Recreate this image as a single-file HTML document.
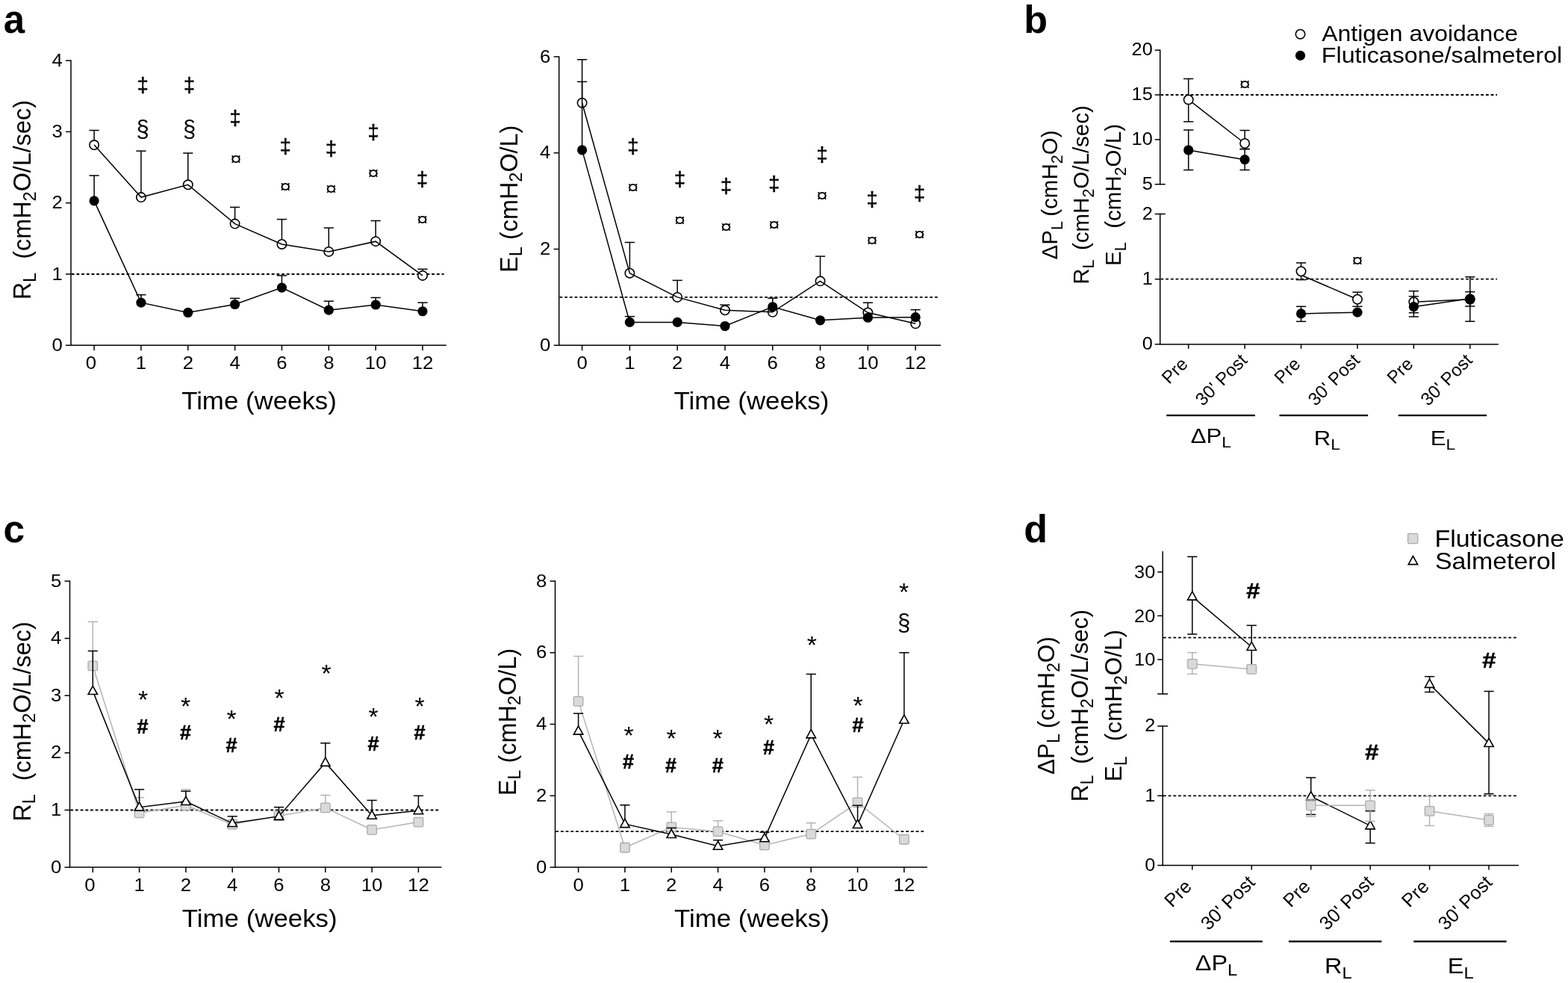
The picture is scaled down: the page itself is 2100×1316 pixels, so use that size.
<!DOCTYPE html>
<html><head><meta charset="utf-8"><title>Figure</title>
<style>html,body{margin:0;padding:0;background:#fff;overflow:hidden;}svg{display:block;}</style></head>
<body><svg width="2100" height="1316" viewBox="0 0 2100 1316" font-family='"Liberation Sans", Arial, Helvetica, sans-serif' fill="#000">
<rect width="2100" height="1316" fill="#fff"/>
<text x="4.8" y="44" font-size="51" font-weight="bold">a</text>
<text x="1371.2" y="44" font-size="52" font-weight="bold">b</text>
<text x="4.6" y="725.8" font-size="51.5" font-weight="bold">c</text>
<text x="1371.2" y="725.6" font-size="52" font-weight="bold">d</text>
<line x1="95" y1="80.35" x2="95" y2="463.05" stroke="#000" stroke-width="1.5"/>
<line x1="88" y1="462.3" x2="95" y2="462.3" stroke="#000" stroke-width="1.5"/>
<text transform="translate(83.7,469.93) scale(1.06,1)" font-size="24.3" text-anchor="end">0</text>
<line x1="88" y1="367" x2="95" y2="367" stroke="#000" stroke-width="1.5"/>
<text transform="translate(83.7,374.63) scale(1.06,1)" font-size="24.3" text-anchor="end">1</text>
<line x1="88" y1="271.7" x2="95" y2="271.7" stroke="#000" stroke-width="1.5"/>
<text transform="translate(83.7,279.33) scale(1.06,1)" font-size="24.3" text-anchor="end">2</text>
<line x1="88" y1="176.4" x2="95" y2="176.4" stroke="#000" stroke-width="1.5"/>
<text transform="translate(83.7,184.03) scale(1.06,1)" font-size="24.3" text-anchor="end">3</text>
<line x1="88" y1="81.1" x2="95" y2="81.1" stroke="#000" stroke-width="1.5"/>
<text transform="translate(83.7,88.73) scale(1.06,1)" font-size="24.3" text-anchor="end">4</text>
<line x1="95" y1="462.3" x2="597.7" y2="462.3" stroke="#000" stroke-width="1.5"/>
<line x1="126.1" y1="462.3" x2="126.1" y2="469.3" stroke="#000" stroke-width="1.5"/>
<text transform="translate(122,494) scale(1.06,1)" font-size="24.3" text-anchor="middle">0</text>
<line x1="188.94" y1="462.3" x2="188.94" y2="469.3" stroke="#000" stroke-width="1.5"/>
<text transform="translate(188.94,494) scale(1.06,1)" font-size="24.3" text-anchor="middle">1</text>
<line x1="251.78" y1="462.3" x2="251.78" y2="469.3" stroke="#000" stroke-width="1.5"/>
<text transform="translate(251.78,494) scale(1.06,1)" font-size="24.3" text-anchor="middle">2</text>
<line x1="314.62" y1="462.3" x2="314.62" y2="469.3" stroke="#000" stroke-width="1.5"/>
<text transform="translate(314.62,494) scale(1.06,1)" font-size="24.3" text-anchor="middle">4</text>
<line x1="377.46" y1="462.3" x2="377.46" y2="469.3" stroke="#000" stroke-width="1.5"/>
<text transform="translate(377.46,494) scale(1.06,1)" font-size="24.3" text-anchor="middle">6</text>
<line x1="440.3" y1="462.3" x2="440.3" y2="469.3" stroke="#000" stroke-width="1.5"/>
<text transform="translate(440.3,494) scale(1.06,1)" font-size="24.3" text-anchor="middle">8</text>
<line x1="503.14" y1="462.3" x2="503.14" y2="469.3" stroke="#000" stroke-width="1.5"/>
<text transform="translate(503.14,494) scale(1.06,1)" font-size="24.3" text-anchor="middle">10</text>
<line x1="565.98" y1="462.3" x2="565.98" y2="469.3" stroke="#000" stroke-width="1.5"/>
<text transform="translate(565.98,494) scale(1.06,1)" font-size="24.3" text-anchor="middle">12</text>
<line x1="95.75" y1="367" x2="594.5" y2="367" stroke="#000" stroke-width="1.8" stroke-dasharray="3.8,2.9"/>
<line x1="126.1" y1="194.03" x2="126.1" y2="174.49" stroke="#000" stroke-width="1.5"/>
<line x1="119.5" y1="174.49" x2="132.7" y2="174.49" stroke="#000" stroke-width="1.5"/>
<line x1="188.94" y1="264.08" x2="188.94" y2="202.13" stroke="#000" stroke-width="1.5"/>
<line x1="182.34" y1="202.13" x2="195.54" y2="202.13" stroke="#000" stroke-width="1.5"/>
<line x1="251.78" y1="247.3" x2="251.78" y2="204.99" stroke="#000" stroke-width="1.5"/>
<line x1="245.18" y1="204.99" x2="258.38" y2="204.99" stroke="#000" stroke-width="1.5"/>
<line x1="314.62" y1="299.62" x2="314.62" y2="277.42" stroke="#000" stroke-width="1.5"/>
<line x1="308.02" y1="277.42" x2="321.22" y2="277.42" stroke="#000" stroke-width="1.5"/>
<line x1="377.46" y1="326.97" x2="377.46" y2="293.62" stroke="#000" stroke-width="1.5"/>
<line x1="370.86" y1="293.62" x2="384.06" y2="293.62" stroke="#000" stroke-width="1.5"/>
<line x1="440.3" y1="336.89" x2="440.3" y2="305.06" stroke="#000" stroke-width="1.5"/>
<line x1="433.7" y1="305.06" x2="446.9" y2="305.06" stroke="#000" stroke-width="1.5"/>
<line x1="503.14" y1="323.16" x2="503.14" y2="295.52" stroke="#000" stroke-width="1.5"/>
<line x1="496.54" y1="295.52" x2="509.74" y2="295.52" stroke="#000" stroke-width="1.5"/>
<line x1="565.98" y1="368.91" x2="565.98" y2="360.33" stroke="#000" stroke-width="1.5"/>
<line x1="559.38" y1="360.33" x2="572.58" y2="360.33" stroke="#000" stroke-width="1.5"/>
<circle cx="126.1" cy="194.03" r="6.2" fill="#fff" stroke="#000" stroke-width="1.6"/>
<circle cx="188.94" cy="264.08" r="6.2" fill="#fff" stroke="#000" stroke-width="1.6"/>
<circle cx="251.78" cy="247.3" r="6.2" fill="#fff" stroke="#000" stroke-width="1.6"/>
<circle cx="314.62" cy="299.62" r="6.2" fill="#fff" stroke="#000" stroke-width="1.6"/>
<circle cx="377.46" cy="326.97" r="6.2" fill="#fff" stroke="#000" stroke-width="1.6"/>
<circle cx="440.3" cy="336.89" r="6.2" fill="#fff" stroke="#000" stroke-width="1.6"/>
<circle cx="503.14" cy="323.16" r="6.2" fill="#fff" stroke="#000" stroke-width="1.6"/>
<circle cx="565.98" cy="368.91" r="6.2" fill="#fff" stroke="#000" stroke-width="1.6"/>
<polyline points="126.1,194.03 188.94,264.08 251.78,247.3 314.62,299.62 377.46,326.97 440.3,336.89 503.14,323.16 565.98,368.91" fill="none" stroke="#000" stroke-width="1.5"/>
<line x1="126.1" y1="268.84" x2="126.1" y2="235.01" stroke="#000" stroke-width="1.5"/>
<line x1="119.5" y1="235.01" x2="132.7" y2="235.01" stroke="#000" stroke-width="1.5"/>
<line x1="188.94" y1="405.12" x2="188.94" y2="394.64" stroke="#000" stroke-width="1.5"/>
<line x1="182.34" y1="394.64" x2="195.54" y2="394.64" stroke="#000" stroke-width="1.5"/>
<line x1="314.62" y1="407.5" x2="314.62" y2="399.4" stroke="#000" stroke-width="1.5"/>
<line x1="308.02" y1="399.4" x2="321.22" y2="399.4" stroke="#000" stroke-width="1.5"/>
<line x1="377.46" y1="385.11" x2="377.46" y2="368.91" stroke="#000" stroke-width="1.5"/>
<line x1="370.86" y1="368.91" x2="384.06" y2="368.91" stroke="#000" stroke-width="1.5"/>
<line x1="440.3" y1="415.13" x2="440.3" y2="403.21" stroke="#000" stroke-width="1.5"/>
<line x1="433.7" y1="403.21" x2="446.9" y2="403.21" stroke="#000" stroke-width="1.5"/>
<line x1="503.14" y1="407.98" x2="503.14" y2="398.45" stroke="#000" stroke-width="1.5"/>
<line x1="496.54" y1="398.45" x2="509.74" y2="398.45" stroke="#000" stroke-width="1.5"/>
<line x1="565.98" y1="416.75" x2="565.98" y2="405.12" stroke="#000" stroke-width="1.5"/>
<line x1="559.38" y1="405.12" x2="572.58" y2="405.12" stroke="#000" stroke-width="1.5"/>
<circle cx="126.1" cy="268.84" r="6.6" fill="#000"/>
<circle cx="188.94" cy="405.12" r="6.6" fill="#000"/>
<circle cx="251.78" cy="418.46" r="6.6" fill="#000"/>
<circle cx="314.62" cy="407.5" r="6.6" fill="#000"/>
<circle cx="377.46" cy="385.11" r="6.6" fill="#000"/>
<circle cx="440.3" cy="415.13" r="6.6" fill="#000"/>
<circle cx="503.14" cy="407.98" r="6.6" fill="#000"/>
<circle cx="565.98" cy="416.75" r="6.6" fill="#000"/>
<polyline points="126.1,268.84 188.94,405.12 251.78,418.46 314.62,407.5 377.46,385.11 440.3,415.13 503.14,407.98 565.98,416.75" fill="none" stroke="#000" stroke-width="1.5"/>
<text x="191.2" y="123.48" font-size="27" text-anchor="middle" stroke="#000" stroke-width="0.55">‡</text>
<text x="191.2" y="183.23" font-size="31" text-anchor="middle">§</text>
<text x="253.6" y="123.48" font-size="27" text-anchor="middle" stroke="#000" stroke-width="0.55">‡</text>
<text x="253.6" y="183.23" font-size="31" text-anchor="middle">§</text>
<text x="315" y="167.48" font-size="27" text-anchor="middle" stroke="#000" stroke-width="0.55">‡</text>
<text transform="translate(316,221.04) scale(1.12,0.98)" font-size="24" text-anchor="middle">¤</text>
<text x="382.2" y="205.38" font-size="27" text-anchor="middle" stroke="#000" stroke-width="0.55">‡</text>
<text transform="translate(382.2,258.24) scale(1.12,0.98)" font-size="24" text-anchor="middle">¤</text>
<text x="443.4" y="207.98" font-size="27" text-anchor="middle" stroke="#000" stroke-width="0.55">‡</text>
<text transform="translate(443.4,261.44) scale(1.12,0.98)" font-size="24" text-anchor="middle">¤</text>
<text x="500" y="186.18" font-size="27" text-anchor="middle" stroke="#000" stroke-width="0.55">‡</text>
<text transform="translate(500,239.54) scale(1.12,0.98)" font-size="24" text-anchor="middle">¤</text>
<text x="565.6" y="248.68" font-size="27" text-anchor="middle" stroke="#000" stroke-width="0.55">‡</text>
<text transform="translate(565.6,302.04) scale(1.12,0.98)" font-size="24" text-anchor="middle">¤</text>
<text transform="translate(347,548.4) scale(1.056,1)" font-size="33" text-anchor="middle">Time (weeks)</text>
<text transform="translate(41.2,267.65) rotate(-90)" font-size="32.4" text-anchor="middle">R<tspan font-size="23.6" dy="6.3">L</tspan><tspan dy="-6.3" dx="18">(cmH</tspan><tspan font-size="23.6" dy="6.3">2</tspan><tspan dy="-6.3">O/L/sec)</tspan></text>
<line x1="748.7" y1="75.15" x2="748.7" y2="463.05" stroke="#000" stroke-width="1.5"/>
<line x1="741.7" y1="462.3" x2="748.7" y2="462.3" stroke="#000" stroke-width="1.5"/>
<text transform="translate(737.4,469.93) scale(1.06,1)" font-size="24.3" text-anchor="end">0</text>
<line x1="741.7" y1="333.5" x2="748.7" y2="333.5" stroke="#000" stroke-width="1.5"/>
<text transform="translate(737.4,341.13) scale(1.06,1)" font-size="24.3" text-anchor="end">2</text>
<line x1="741.7" y1="204.7" x2="748.7" y2="204.7" stroke="#000" stroke-width="1.5"/>
<text transform="translate(737.4,212.33) scale(1.06,1)" font-size="24.3" text-anchor="end">4</text>
<line x1="741.7" y1="75.9" x2="748.7" y2="75.9" stroke="#000" stroke-width="1.5"/>
<text transform="translate(737.4,83.53) scale(1.06,1)" font-size="24.3" text-anchor="end">6</text>
<line x1="748.7" y1="462.3" x2="1260" y2="462.3" stroke="#000" stroke-width="1.5"/>
<line x1="779.6" y1="462.3" x2="779.6" y2="469.3" stroke="#000" stroke-width="1.5"/>
<text transform="translate(779.6,494) scale(1.06,1)" font-size="24.3" text-anchor="middle">0</text>
<line x1="843.39" y1="462.3" x2="843.39" y2="469.3" stroke="#000" stroke-width="1.5"/>
<text transform="translate(843.39,494) scale(1.06,1)" font-size="24.3" text-anchor="middle">1</text>
<line x1="907.18" y1="462.3" x2="907.18" y2="469.3" stroke="#000" stroke-width="1.5"/>
<text transform="translate(907.18,494) scale(1.06,1)" font-size="24.3" text-anchor="middle">2</text>
<line x1="970.97" y1="462.3" x2="970.97" y2="469.3" stroke="#000" stroke-width="1.5"/>
<text transform="translate(970.97,494) scale(1.06,1)" font-size="24.3" text-anchor="middle">4</text>
<line x1="1034.76" y1="462.3" x2="1034.76" y2="469.3" stroke="#000" stroke-width="1.5"/>
<text transform="translate(1034.76,494) scale(1.06,1)" font-size="24.3" text-anchor="middle">6</text>
<line x1="1098.55" y1="462.3" x2="1098.55" y2="469.3" stroke="#000" stroke-width="1.5"/>
<text transform="translate(1098.55,494) scale(1.06,1)" font-size="24.3" text-anchor="middle">8</text>
<line x1="1162.34" y1="462.3" x2="1162.34" y2="469.3" stroke="#000" stroke-width="1.5"/>
<text transform="translate(1162.34,494) scale(1.06,1)" font-size="24.3" text-anchor="middle">10</text>
<line x1="1226.13" y1="462.3" x2="1226.13" y2="469.3" stroke="#000" stroke-width="1.5"/>
<text transform="translate(1226.13,494) scale(1.06,1)" font-size="24.3" text-anchor="middle">12</text>
<line x1="749.45" y1="397.9" x2="1258" y2="397.9" stroke="#000" stroke-width="1.8" stroke-dasharray="3.8,2.9"/>
<line x1="779.6" y1="137.72" x2="779.6" y2="79.76" stroke="#000" stroke-width="1.5"/>
<line x1="773" y1="79.76" x2="786.2" y2="79.76" stroke="#000" stroke-width="1.5"/>
<line x1="843.39" y1="365.7" x2="843.39" y2="324.48" stroke="#000" stroke-width="1.5"/>
<line x1="836.79" y1="324.48" x2="849.99" y2="324.48" stroke="#000" stroke-width="1.5"/>
<line x1="907.18" y1="397.9" x2="907.18" y2="375.36" stroke="#000" stroke-width="1.5"/>
<line x1="900.58" y1="375.36" x2="913.78" y2="375.36" stroke="#000" stroke-width="1.5"/>
<line x1="970.97" y1="415.29" x2="970.97" y2="408.2" stroke="#000" stroke-width="1.5"/>
<line x1="964.37" y1="408.2" x2="977.57" y2="408.2" stroke="#000" stroke-width="1.5"/>
<line x1="1098.55" y1="376.33" x2="1098.55" y2="343.16" stroke="#000" stroke-width="1.5"/>
<line x1="1091.95" y1="343.16" x2="1105.15" y2="343.16" stroke="#000" stroke-width="1.5"/>
<line x1="1162.34" y1="418.51" x2="1162.34" y2="405.24" stroke="#000" stroke-width="1.5"/>
<line x1="1155.74" y1="405.24" x2="1168.94" y2="405.24" stroke="#000" stroke-width="1.5"/>
<circle cx="779.6" cy="137.72" r="6.2" fill="#fff" stroke="#000" stroke-width="1.6"/>
<circle cx="843.39" cy="365.7" r="6.2" fill="#fff" stroke="#000" stroke-width="1.6"/>
<circle cx="907.18" cy="397.9" r="6.2" fill="#fff" stroke="#000" stroke-width="1.6"/>
<circle cx="970.97" cy="415.29" r="6.2" fill="#fff" stroke="#000" stroke-width="1.6"/>
<circle cx="1034.76" cy="417.86" r="6.2" fill="#fff" stroke="#000" stroke-width="1.6"/>
<circle cx="1098.55" cy="376.33" r="6.2" fill="#fff" stroke="#000" stroke-width="1.6"/>
<circle cx="1162.34" cy="418.51" r="6.2" fill="#fff" stroke="#000" stroke-width="1.6"/>
<circle cx="1226.13" cy="433.32" r="6.2" fill="#fff" stroke="#000" stroke-width="1.6"/>
<polyline points="779.6,137.72 843.39,365.7 907.18,397.9 970.97,415.29 1034.76,417.86 1098.55,376.33 1162.34,418.51 1226.13,433.32" fill="none" stroke="#000" stroke-width="1.5"/>
<line x1="779.6" y1="200.84" x2="779.6" y2="109.39" stroke="#000" stroke-width="1.5"/>
<line x1="773" y1="109.39" x2="786.2" y2="109.39" stroke="#000" stroke-width="1.5"/>
<line x1="843.39" y1="431.39" x2="843.39" y2="423.66" stroke="#000" stroke-width="1.5"/>
<line x1="836.79" y1="423.66" x2="849.99" y2="423.66" stroke="#000" stroke-width="1.5"/>
<line x1="1034.76" y1="410.78" x2="1034.76" y2="399.19" stroke="#000" stroke-width="1.5"/>
<line x1="1028.16" y1="399.19" x2="1041.36" y2="399.19" stroke="#000" stroke-width="1.5"/>
<line x1="1226.13" y1="424.63" x2="1226.13" y2="414.64" stroke="#000" stroke-width="1.5"/>
<line x1="1219.53" y1="414.64" x2="1232.73" y2="414.64" stroke="#000" stroke-width="1.5"/>
<circle cx="779.6" cy="200.84" r="6.6" fill="#000"/>
<circle cx="843.39" cy="431.39" r="6.6" fill="#000"/>
<circle cx="907.18" cy="431.39" r="6.6" fill="#000"/>
<circle cx="970.97" cy="436.54" r="6.6" fill="#000"/>
<circle cx="1034.76" cy="410.78" r="6.6" fill="#000"/>
<circle cx="1098.55" cy="428.81" r="6.6" fill="#000"/>
<circle cx="1162.34" cy="425.27" r="6.6" fill="#000"/>
<circle cx="1226.13" cy="424.63" r="6.6" fill="#000"/>
<polyline points="779.6,200.84 843.39,431.39 907.18,431.39 970.97,436.54 1034.76,410.78 1098.55,428.81 1162.34,425.27 1226.13,424.63" fill="none" stroke="#000" stroke-width="1.5"/>
<text x="847.7" y="204.68" font-size="27" text-anchor="middle" stroke="#000" stroke-width="0.55">‡</text>
<text transform="translate(847.7,259.24) scale(1.12,0.98)" font-size="24" text-anchor="middle">¤</text>
<text x="910.5" y="249.18" font-size="27" text-anchor="middle" stroke="#000" stroke-width="0.55">‡</text>
<text transform="translate(910.5,302.74) scale(1.12,0.98)" font-size="24" text-anchor="middle">¤</text>
<text x="972.5" y="258.18" font-size="27" text-anchor="middle" stroke="#000" stroke-width="0.55">‡</text>
<text transform="translate(972.5,311.84) scale(1.12,0.98)" font-size="24" text-anchor="middle">¤</text>
<text x="1036.8" y="255.08" font-size="27" text-anchor="middle" stroke="#000" stroke-width="0.55">‡</text>
<text transform="translate(1036.8,309.44) scale(1.12,0.98)" font-size="24" text-anchor="middle">¤</text>
<text x="1100.9" y="216.08" font-size="27" text-anchor="middle" stroke="#000" stroke-width="0.55">‡</text>
<text transform="translate(1100.9,270.44) scale(1.12,0.98)" font-size="24" text-anchor="middle">¤</text>
<text x="1167.9" y="275.58" font-size="27" text-anchor="middle" stroke="#000" stroke-width="0.55">‡</text>
<text transform="translate(1167.9,329.94) scale(1.12,0.98)" font-size="24" text-anchor="middle">¤</text>
<text x="1231.4" y="268.28" font-size="27" text-anchor="middle" stroke="#000" stroke-width="0.55">‡</text>
<text transform="translate(1231.4,322.24) scale(1.12,0.98)" font-size="24" text-anchor="middle">¤</text>
<text transform="translate(1006.4,548.4) scale(1.056,1)" font-size="33" text-anchor="middle">Time (weeks)</text>
<text transform="translate(693,266.25) rotate(-90)" font-size="32.4" text-anchor="middle">E<tspan font-size="23.6" dy="6.3">L</tspan><tspan dy="-6.3" dx="9.1">(cmH</tspan><tspan font-size="23.6" dy="6.3">2</tspan><tspan dy="-6.3">O/L)</tspan></text>
<line x1="93.5" y1="777.25" x2="93.5" y2="1161.85" stroke="#000" stroke-width="1.5"/>
<line x1="86.5" y1="1161.1" x2="93.5" y2="1161.1" stroke="#000" stroke-width="1.5"/>
<text transform="translate(82.2,1168.73) scale(1.06,1)" font-size="24.3" text-anchor="end">0</text>
<line x1="86.5" y1="1084.48" x2="93.5" y2="1084.48" stroke="#000" stroke-width="1.5"/>
<text transform="translate(82.2,1092.11) scale(1.06,1)" font-size="24.3" text-anchor="end">1</text>
<line x1="86.5" y1="1007.86" x2="93.5" y2="1007.86" stroke="#000" stroke-width="1.5"/>
<text transform="translate(82.2,1015.49) scale(1.06,1)" font-size="24.3" text-anchor="end">2</text>
<line x1="86.5" y1="931.24" x2="93.5" y2="931.24" stroke="#000" stroke-width="1.5"/>
<text transform="translate(82.2,938.87) scale(1.06,1)" font-size="24.3" text-anchor="end">3</text>
<line x1="86.5" y1="854.62" x2="93.5" y2="854.62" stroke="#000" stroke-width="1.5"/>
<text transform="translate(82.2,862.25) scale(1.06,1)" font-size="24.3" text-anchor="end">4</text>
<line x1="86.5" y1="778" x2="93.5" y2="778" stroke="#000" stroke-width="1.5"/>
<text transform="translate(82.2,785.63) scale(1.06,1)" font-size="24.3" text-anchor="end">5</text>
<line x1="93.5" y1="1161.1" x2="591.4" y2="1161.1" stroke="#000" stroke-width="1.5"/>
<line x1="124.3" y1="1161.1" x2="124.3" y2="1168.1" stroke="#000" stroke-width="1.5"/>
<text transform="translate(120.5,1192.8) scale(1.06,1)" font-size="24.3" text-anchor="middle">0</text>
<line x1="186.6" y1="1161.1" x2="186.6" y2="1168.1" stroke="#000" stroke-width="1.5"/>
<text transform="translate(186.6,1192.8) scale(1.06,1)" font-size="24.3" text-anchor="middle">1</text>
<line x1="248.9" y1="1161.1" x2="248.9" y2="1168.1" stroke="#000" stroke-width="1.5"/>
<text transform="translate(248.9,1192.8) scale(1.06,1)" font-size="24.3" text-anchor="middle">2</text>
<line x1="311.2" y1="1161.1" x2="311.2" y2="1168.1" stroke="#000" stroke-width="1.5"/>
<text transform="translate(311.2,1192.8) scale(1.06,1)" font-size="24.3" text-anchor="middle">4</text>
<line x1="373.5" y1="1161.1" x2="373.5" y2="1168.1" stroke="#000" stroke-width="1.5"/>
<text transform="translate(373.5,1192.8) scale(1.06,1)" font-size="24.3" text-anchor="middle">6</text>
<line x1="435.8" y1="1161.1" x2="435.8" y2="1168.1" stroke="#000" stroke-width="1.5"/>
<text transform="translate(435.8,1192.8) scale(1.06,1)" font-size="24.3" text-anchor="middle">8</text>
<line x1="498.1" y1="1161.1" x2="498.1" y2="1168.1" stroke="#000" stroke-width="1.5"/>
<text transform="translate(498.1,1192.8) scale(1.06,1)" font-size="24.3" text-anchor="middle">10</text>
<line x1="560.4" y1="1161.1" x2="560.4" y2="1168.1" stroke="#000" stroke-width="1.5"/>
<text transform="translate(560.4,1192.8) scale(1.06,1)" font-size="24.3" text-anchor="middle">12</text>
<line x1="94.25" y1="1084.48" x2="589" y2="1084.48" stroke="#000" stroke-width="1.8" stroke-dasharray="3.8,2.9"/>
<line x1="124.3" y1="891.4" x2="124.3" y2="832.4" stroke="#b4b4b4" stroke-width="1.5"/>
<line x1="117.7" y1="832.4" x2="130.9" y2="832.4" stroke="#b4b4b4" stroke-width="1.5"/>
<line x1="186.6" y1="1088.31" x2="186.6" y2="1067.62" stroke="#b4b4b4" stroke-width="1.5"/>
<line x1="180" y1="1067.62" x2="193.2" y2="1067.62" stroke="#b4b4b4" stroke-width="1.5"/>
<line x1="248.9" y1="1078.35" x2="248.9" y2="1056.9" stroke="#b4b4b4" stroke-width="1.5"/>
<line x1="242.3" y1="1056.9" x2="255.5" y2="1056.9" stroke="#b4b4b4" stroke-width="1.5"/>
<line x1="435.8" y1="1081.42" x2="435.8" y2="1064.56" stroke="#b4b4b4" stroke-width="1.5"/>
<line x1="429.2" y1="1064.56" x2="442.4" y2="1064.56" stroke="#b4b4b4" stroke-width="1.5"/>
<polyline points="124.3,891.4 186.6,1088.31 248.9,1078.35 311.2,1103.63 373.5,1092.14 435.8,1081.42 498.1,1110.91 560.4,1100.57" fill="none" stroke="#b4b4b4" stroke-width="1.5"/>
<rect x="118.05" y="885.15" width="12.5" height="12.5" rx="1.5" fill="#dadada" stroke="#aaaaaa" stroke-width="1.3"/>
<rect x="180.35" y="1082.06" width="12.5" height="12.5" rx="1.5" fill="#dadada" stroke="#aaaaaa" stroke-width="1.3"/>
<rect x="242.65" y="1072.1" width="12.5" height="12.5" rx="1.5" fill="#dadada" stroke="#aaaaaa" stroke-width="1.3"/>
<rect x="304.95" y="1097.38" width="12.5" height="12.5" rx="1.5" fill="#dadada" stroke="#aaaaaa" stroke-width="1.3"/>
<rect x="367.25" y="1085.89" width="12.5" height="12.5" rx="1.5" fill="#dadada" stroke="#aaaaaa" stroke-width="1.3"/>
<rect x="429.55" y="1075.17" width="12.5" height="12.5" rx="1.5" fill="#dadada" stroke="#aaaaaa" stroke-width="1.3"/>
<rect x="491.85" y="1104.66" width="12.5" height="12.5" rx="1.5" fill="#dadada" stroke="#aaaaaa" stroke-width="1.3"/>
<rect x="554.15" y="1094.32" width="12.5" height="12.5" rx="1.5" fill="#dadada" stroke="#aaaaaa" stroke-width="1.3"/>
<line x1="124.3" y1="925.11" x2="124.3" y2="871.48" stroke="#000" stroke-width="1.5"/>
<line x1="117.7" y1="871.48" x2="130.9" y2="871.48" stroke="#000" stroke-width="1.5"/>
<line x1="186.6" y1="1080.65" x2="186.6" y2="1056.9" stroke="#000" stroke-width="1.5"/>
<line x1="180" y1="1056.9" x2="193.2" y2="1056.9" stroke="#000" stroke-width="1.5"/>
<line x1="248.9" y1="1072.99" x2="248.9" y2="1059.2" stroke="#000" stroke-width="1.5"/>
<line x1="242.3" y1="1059.2" x2="255.5" y2="1059.2" stroke="#000" stroke-width="1.5"/>
<line x1="311.2" y1="1102.1" x2="311.2" y2="1092.91" stroke="#000" stroke-width="1.5"/>
<line x1="304.6" y1="1092.91" x2="317.8" y2="1092.91" stroke="#000" stroke-width="1.5"/>
<line x1="373.5" y1="1092.91" x2="373.5" y2="1080.65" stroke="#000" stroke-width="1.5"/>
<line x1="366.9" y1="1080.65" x2="380.1" y2="1080.65" stroke="#000" stroke-width="1.5"/>
<line x1="435.8" y1="1020.89" x2="435.8" y2="994.83" stroke="#000" stroke-width="1.5"/>
<line x1="429.2" y1="994.83" x2="442.4" y2="994.83" stroke="#000" stroke-width="1.5"/>
<line x1="498.1" y1="1091.76" x2="498.1" y2="1071.45" stroke="#000" stroke-width="1.5"/>
<line x1="491.5" y1="1071.45" x2="504.7" y2="1071.45" stroke="#000" stroke-width="1.5"/>
<line x1="560.4" y1="1085.25" x2="560.4" y2="1065.32" stroke="#000" stroke-width="1.5"/>
<line x1="553.8" y1="1065.32" x2="567" y2="1065.32" stroke="#000" stroke-width="1.5"/>
<polyline points="124.3,925.11 186.6,1080.65 248.9,1072.99 311.2,1102.1 373.5,1092.91 435.8,1020.89 498.1,1091.76 560.4,1085.25" fill="none" stroke="#000" stroke-width="1.5"/>
<polygon points="124.3,918.41 130.5,929.57 118.1,929.57" fill="#fff" stroke="#000" stroke-width="1.6"/>
<polygon points="186.6,1073.95 192.8,1085.11 180.4,1085.11" fill="#fff" stroke="#000" stroke-width="1.6"/>
<polygon points="248.9,1066.29 255.1,1077.45 242.7,1077.45" fill="#fff" stroke="#000" stroke-width="1.6"/>
<polygon points="311.2,1095.41 317.4,1106.57 305,1106.57" fill="#fff" stroke="#000" stroke-width="1.6"/>
<polygon points="373.5,1086.21 379.7,1097.37 367.3,1097.37" fill="#fff" stroke="#000" stroke-width="1.6"/>
<polygon points="435.8,1014.19 442,1025.35 429.6,1025.35" fill="#fff" stroke="#000" stroke-width="1.6"/>
<polygon points="498.1,1085.06 504.3,1096.22 491.9,1096.22" fill="#fff" stroke="#000" stroke-width="1.6"/>
<polygon points="560.4,1078.55 566.6,1089.71 554.2,1089.71" fill="#fff" stroke="#000" stroke-width="1.6"/>
<text x="191.5" y="948.48" font-size="34" text-anchor="middle">*</text>
<text x="191" y="982.45" font-size="27" text-anchor="middle" font-weight="bold" stroke="#000" stroke-width="0.5">#</text>
<text x="248.5" y="956.68" font-size="34" text-anchor="middle">*</text>
<text x="248.5" y="990.45" font-size="27" text-anchor="middle" font-weight="bold" stroke="#000" stroke-width="0.5">#</text>
<text x="310" y="973.58" font-size="34" text-anchor="middle">*</text>
<text x="310" y="1007.25" font-size="27" text-anchor="middle" font-weight="bold" stroke="#000" stroke-width="0.5">#</text>
<text x="374" y="946.18" font-size="34" text-anchor="middle">*</text>
<text x="374" y="979.45" font-size="27" text-anchor="middle" font-weight="bold" stroke="#000" stroke-width="0.5">#</text>
<text x="437" y="912.88" font-size="34" text-anchor="middle">*</text>
<text x="500" y="971.28" font-size="34" text-anchor="middle">*</text>
<text x="500" y="1004.95" font-size="27" text-anchor="middle" font-weight="bold" stroke="#000" stroke-width="0.5">#</text>
<text x="562" y="956.68" font-size="34" text-anchor="middle">*</text>
<text x="562" y="990.45" font-size="27" text-anchor="middle" font-weight="bold" stroke="#000" stroke-width="0.5">#</text>
<text transform="translate(347.7,1240.6) scale(1.056,1)" font-size="33" text-anchor="middle">Time (weeks)</text>
<text transform="translate(40.5,966) rotate(-90)" font-size="32.4" text-anchor="middle">R<tspan font-size="23.6" dy="6.3">L</tspan><tspan dy="-6.3" dx="18">(cmH</tspan><tspan font-size="23.6" dy="6.3">2</tspan><tspan dy="-6.3">O/L/sec)</tspan></text>
<line x1="743.5" y1="777.23" x2="743.5" y2="1161.85" stroke="#000" stroke-width="1.5"/>
<line x1="736.5" y1="1161.1" x2="743.5" y2="1161.1" stroke="#000" stroke-width="1.5"/>
<text transform="translate(732.2,1168.73) scale(1.06,1)" font-size="24.3" text-anchor="end">0</text>
<line x1="736.5" y1="1065.32" x2="743.5" y2="1065.32" stroke="#000" stroke-width="1.5"/>
<text transform="translate(732.2,1072.95) scale(1.06,1)" font-size="24.3" text-anchor="end">2</text>
<line x1="736.5" y1="969.54" x2="743.5" y2="969.54" stroke="#000" stroke-width="1.5"/>
<text transform="translate(732.2,977.17) scale(1.06,1)" font-size="24.3" text-anchor="end">4</text>
<line x1="736.5" y1="873.76" x2="743.5" y2="873.76" stroke="#000" stroke-width="1.5"/>
<text transform="translate(732.2,881.39) scale(1.06,1)" font-size="24.3" text-anchor="end">6</text>
<line x1="736.5" y1="777.98" x2="743.5" y2="777.98" stroke="#000" stroke-width="1.5"/>
<text transform="translate(732.2,785.61) scale(1.06,1)" font-size="24.3" text-anchor="end">8</text>
<line x1="743.5" y1="1161.1" x2="1242" y2="1161.1" stroke="#000" stroke-width="1.5"/>
<line x1="774.6" y1="1161.1" x2="774.6" y2="1168.1" stroke="#000" stroke-width="1.5"/>
<text transform="translate(774.6,1192.8) scale(1.06,1)" font-size="24.3" text-anchor="middle">0</text>
<line x1="836.93" y1="1161.1" x2="836.93" y2="1168.1" stroke="#000" stroke-width="1.5"/>
<text transform="translate(836.93,1192.8) scale(1.06,1)" font-size="24.3" text-anchor="middle">1</text>
<line x1="899.26" y1="1161.1" x2="899.26" y2="1168.1" stroke="#000" stroke-width="1.5"/>
<text transform="translate(899.26,1192.8) scale(1.06,1)" font-size="24.3" text-anchor="middle">2</text>
<line x1="961.59" y1="1161.1" x2="961.59" y2="1168.1" stroke="#000" stroke-width="1.5"/>
<text transform="translate(961.59,1192.8) scale(1.06,1)" font-size="24.3" text-anchor="middle">4</text>
<line x1="1023.92" y1="1161.1" x2="1023.92" y2="1168.1" stroke="#000" stroke-width="1.5"/>
<text transform="translate(1023.92,1192.8) scale(1.06,1)" font-size="24.3" text-anchor="middle">6</text>
<line x1="1086.25" y1="1161.1" x2="1086.25" y2="1168.1" stroke="#000" stroke-width="1.5"/>
<text transform="translate(1086.25,1192.8) scale(1.06,1)" font-size="24.3" text-anchor="middle">8</text>
<line x1="1148.58" y1="1161.1" x2="1148.58" y2="1168.1" stroke="#000" stroke-width="1.5"/>
<text transform="translate(1148.58,1192.8) scale(1.06,1)" font-size="24.3" text-anchor="middle">10</text>
<line x1="1210.91" y1="1161.1" x2="1210.91" y2="1168.1" stroke="#000" stroke-width="1.5"/>
<text transform="translate(1210.91,1192.8) scale(1.06,1)" font-size="24.3" text-anchor="middle">12</text>
<line x1="744.25" y1="1113.21" x2="1240" y2="1113.21" stroke="#000" stroke-width="1.8" stroke-dasharray="3.8,2.9"/>
<line x1="774.6" y1="938.89" x2="774.6" y2="878.55" stroke="#b4b4b4" stroke-width="1.5"/>
<line x1="768" y1="878.55" x2="781.2" y2="878.55" stroke="#b4b4b4" stroke-width="1.5"/>
<line x1="899.26" y1="1107.46" x2="899.26" y2="1086.87" stroke="#b4b4b4" stroke-width="1.5"/>
<line x1="892.66" y1="1086.87" x2="905.86" y2="1086.87" stroke="#b4b4b4" stroke-width="1.5"/>
<line x1="961.59" y1="1113.21" x2="961.59" y2="1098.84" stroke="#b4b4b4" stroke-width="1.5"/>
<line x1="954.99" y1="1098.84" x2="968.19" y2="1098.84" stroke="#b4b4b4" stroke-width="1.5"/>
<line x1="1086.25" y1="1116.56" x2="1086.25" y2="1101.72" stroke="#b4b4b4" stroke-width="1.5"/>
<line x1="1079.65" y1="1101.72" x2="1092.85" y2="1101.72" stroke="#b4b4b4" stroke-width="1.5"/>
<line x1="1148.58" y1="1074.42" x2="1148.58" y2="1040.42" stroke="#b4b4b4" stroke-width="1.5"/>
<line x1="1141.98" y1="1040.42" x2="1155.18" y2="1040.42" stroke="#b4b4b4" stroke-width="1.5"/>
<polyline points="774.6,938.89 836.93,1134.76 899.26,1107.46 961.59,1113.21 1023.92,1131.41 1086.25,1116.56 1148.58,1074.42 1210.91,1123.75" fill="none" stroke="#b4b4b4" stroke-width="1.5"/>
<rect x="768.35" y="932.64" width="12.5" height="12.5" rx="1.5" fill="#dadada" stroke="#aaaaaa" stroke-width="1.3"/>
<rect x="830.68" y="1128.51" width="12.5" height="12.5" rx="1.5" fill="#dadada" stroke="#aaaaaa" stroke-width="1.3"/>
<rect x="893.01" y="1101.21" width="12.5" height="12.5" rx="1.5" fill="#dadada" stroke="#aaaaaa" stroke-width="1.3"/>
<rect x="955.34" y="1106.96" width="12.5" height="12.5" rx="1.5" fill="#dadada" stroke="#aaaaaa" stroke-width="1.3"/>
<rect x="1017.67" y="1125.16" width="12.5" height="12.5" rx="1.5" fill="#dadada" stroke="#aaaaaa" stroke-width="1.3"/>
<rect x="1080" y="1110.31" width="12.5" height="12.5" rx="1.5" fill="#dadada" stroke="#aaaaaa" stroke-width="1.3"/>
<rect x="1142.33" y="1068.17" width="12.5" height="12.5" rx="1.5" fill="#dadada" stroke="#aaaaaa" stroke-width="1.3"/>
<rect x="1204.66" y="1117.5" width="12.5" height="12.5" rx="1.5" fill="#dadada" stroke="#aaaaaa" stroke-width="1.3"/>
<line x1="774.6" y1="978.64" x2="774.6" y2="955.17" stroke="#000" stroke-width="1.5"/>
<line x1="768" y1="955.17" x2="781.2" y2="955.17" stroke="#000" stroke-width="1.5"/>
<line x1="836.93" y1="1103.15" x2="836.93" y2="1077.77" stroke="#000" stroke-width="1.5"/>
<line x1="830.33" y1="1077.77" x2="843.53" y2="1077.77" stroke="#000" stroke-width="1.5"/>
<line x1="899.26" y1="1117.04" x2="899.26" y2="1108.42" stroke="#000" stroke-width="1.5"/>
<line x1="892.66" y1="1108.42" x2="905.86" y2="1108.42" stroke="#000" stroke-width="1.5"/>
<line x1="961.59" y1="1132.84" x2="961.59" y2="1124.7" stroke="#000" stroke-width="1.5"/>
<line x1="954.99" y1="1124.7" x2="968.19" y2="1124.7" stroke="#000" stroke-width="1.5"/>
<line x1="1023.92" y1="1122.31" x2="1023.92" y2="1114.17" stroke="#000" stroke-width="1.5"/>
<line x1="1017.32" y1="1114.17" x2="1030.52" y2="1114.17" stroke="#000" stroke-width="1.5"/>
<line x1="1086.25" y1="983.43" x2="1086.25" y2="902.49" stroke="#000" stroke-width="1.5"/>
<line x1="1079.65" y1="902.49" x2="1092.85" y2="902.49" stroke="#000" stroke-width="1.5"/>
<line x1="1148.58" y1="1104.11" x2="1148.58" y2="1078.25" stroke="#000" stroke-width="1.5"/>
<line x1="1141.98" y1="1078.25" x2="1155.18" y2="1078.25" stroke="#000" stroke-width="1.5"/>
<line x1="1210.91" y1="963.79" x2="1210.91" y2="873.76" stroke="#000" stroke-width="1.5"/>
<line x1="1204.31" y1="873.76" x2="1217.51" y2="873.76" stroke="#000" stroke-width="1.5"/>
<polyline points="774.6,978.64 836.93,1103.15 899.26,1117.04 961.59,1132.84 1023.92,1122.31 1086.25,983.43 1148.58,1104.11 1210.91,963.79" fill="none" stroke="#000" stroke-width="1.5"/>
<polygon points="774.6,971.94 780.8,983.1 768.4,983.1" fill="#fff" stroke="#000" stroke-width="1.6"/>
<polygon points="836.93,1096.46 843.13,1107.62 830.73,1107.62" fill="#fff" stroke="#000" stroke-width="1.6"/>
<polygon points="899.26,1110.35 905.46,1121.51 893.06,1121.51" fill="#fff" stroke="#000" stroke-width="1.6"/>
<polygon points="961.59,1126.15 967.79,1137.31 955.39,1137.31" fill="#fff" stroke="#000" stroke-width="1.6"/>
<polygon points="1023.92,1115.61 1030.12,1126.77 1017.72,1126.77" fill="#fff" stroke="#000" stroke-width="1.6"/>
<polygon points="1086.25,976.73 1092.45,987.89 1080.05,987.89" fill="#fff" stroke="#000" stroke-width="1.6"/>
<polygon points="1148.58,1097.41 1154.78,1108.57 1142.38,1108.57" fill="#fff" stroke="#000" stroke-width="1.6"/>
<polygon points="1210.91,957.1 1217.11,968.26 1204.71,968.26" fill="#fff" stroke="#000" stroke-width="1.6"/>
<text x="842" y="996.38" font-size="34" text-anchor="middle">*</text>
<text x="841.5" y="1029.15" font-size="27" text-anchor="middle" font-weight="bold" stroke="#000" stroke-width="0.5">#</text>
<text x="899" y="999.98" font-size="34" text-anchor="middle">*</text>
<text x="898.4" y="1033.75" font-size="27" text-anchor="middle" font-weight="bold" stroke="#000" stroke-width="0.5">#</text>
<text x="961" y="999.98" font-size="34" text-anchor="middle">*</text>
<text x="961.2" y="1033.75" font-size="27" text-anchor="middle" font-weight="bold" stroke="#000" stroke-width="0.5">#</text>
<text x="1029.6" y="981.28" font-size="34" text-anchor="middle">*</text>
<text x="1029.6" y="1009.65" font-size="27" text-anchor="middle" font-weight="bold" stroke="#000" stroke-width="0.5">#</text>
<text x="1087.3" y="875.48" font-size="34" text-anchor="middle">*</text>
<text x="1149" y="955.68" font-size="34" text-anchor="middle">*</text>
<text x="1149" y="979.95" font-size="27" text-anchor="middle" font-weight="bold" stroke="#000" stroke-width="0.5">#</text>
<text x="1210.5" y="804.48" font-size="34" text-anchor="middle">*</text>
<text x="1210.5" y="843.73" font-size="31" text-anchor="middle">§</text>
<text transform="translate(1006.9,1240.6) scale(1.056,1)" font-size="33" text-anchor="middle">Time (weeks)</text>
<text transform="translate(691,966.7) rotate(-90)" font-size="32.4" text-anchor="middle">E<tspan font-size="23.6" dy="6.3">L</tspan><tspan dy="-6.3" dx="9.1">(cmH</tspan><tspan font-size="23.6" dy="6.3">2</tspan><tspan dy="-6.3">O/L)</tspan></text>
<line x1="1553.7" y1="66.4" x2="1553.7" y2="247.45" stroke="#000" stroke-width="1.5"/>
<line x1="1546.7" y1="246.7" x2="1553.7" y2="246.7" stroke="#000" stroke-width="1.5"/>
<text transform="translate(1543.7,253.94) scale(1.09,1)" font-size="23.2" text-anchor="end">5</text>
<line x1="1546.7" y1="186.85" x2="1553.7" y2="186.85" stroke="#000" stroke-width="1.5"/>
<text transform="translate(1543.7,194.09) scale(1.09,1)" font-size="23.2" text-anchor="end">10</text>
<line x1="1546.7" y1="127" x2="1553.7" y2="127" stroke="#000" stroke-width="1.5"/>
<text transform="translate(1543.7,134.24) scale(1.09,1)" font-size="23.2" text-anchor="end">15</text>
<line x1="1546.7" y1="67.15" x2="1553.7" y2="67.15" stroke="#000" stroke-width="1.5"/>
<text transform="translate(1543.7,74.39) scale(1.09,1)" font-size="23.2" text-anchor="end">20</text>
<line x1="1553.7" y1="246.7" x2="1560.7" y2="246.7" stroke="#000" stroke-width="1.5"/>
<line x1="1553.7" y1="285.75" x2="1553.7" y2="461.65" stroke="#000" stroke-width="1.5"/>
<line x1="1546.7" y1="460.9" x2="1553.7" y2="460.9" stroke="#000" stroke-width="1.5"/>
<text transform="translate(1543.7,468.14) scale(1.09,1)" font-size="23.2" text-anchor="end">0</text>
<line x1="1546.7" y1="373.7" x2="1553.7" y2="373.7" stroke="#000" stroke-width="1.5"/>
<text transform="translate(1543.7,380.94) scale(1.09,1)" font-size="23.2" text-anchor="end">1</text>
<line x1="1546.7" y1="286.5" x2="1553.7" y2="286.5" stroke="#000" stroke-width="1.5"/>
<text transform="translate(1543.7,293.74) scale(1.09,1)" font-size="23.2" text-anchor="end">2</text>
<line x1="1553.7" y1="286.5" x2="1560.7" y2="286.5" stroke="#000" stroke-width="1.5"/>
<line x1="1553.7" y1="460.9" x2="2006.8" y2="460.9" stroke="#000" stroke-width="1.5"/>
<line x1="1591.7" y1="460.9" x2="1591.7" y2="466.9" stroke="#000" stroke-width="1.5"/>
<line x1="1667.12" y1="460.9" x2="1667.12" y2="466.9" stroke="#000" stroke-width="1.5"/>
<line x1="1742.54" y1="460.9" x2="1742.54" y2="466.9" stroke="#000" stroke-width="1.5"/>
<line x1="1817.96" y1="460.9" x2="1817.96" y2="466.9" stroke="#000" stroke-width="1.5"/>
<line x1="1893.38" y1="460.9" x2="1893.38" y2="466.9" stroke="#000" stroke-width="1.5"/>
<line x1="1968.8" y1="460.9" x2="1968.8" y2="466.9" stroke="#000" stroke-width="1.5"/>
<line x1="1554.45" y1="127" x2="2005" y2="127" stroke="#000" stroke-width="1.8" stroke-dasharray="3.8,2.9"/>
<line x1="1554.45" y1="373.7" x2="2005" y2="373.7" stroke="#000" stroke-width="1.8" stroke-dasharray="3.8,2.9"/>
<line x1="1591.7" y1="200.97" x2="1591.7" y2="174.04" stroke="#000" stroke-width="1.5"/>
<line x1="1585.1" y1="174.04" x2="1598.3" y2="174.04" stroke="#000" stroke-width="1.5"/>
<line x1="1591.7" y1="200.97" x2="1591.7" y2="227.55" stroke="#000" stroke-width="1.5"/>
<line x1="1585.1" y1="227.55" x2="1598.3" y2="227.55" stroke="#000" stroke-width="1.5"/>
<line x1="1667.12" y1="213.66" x2="1667.12" y2="199.54" stroke="#000" stroke-width="1.5"/>
<line x1="1660.52" y1="199.54" x2="1673.72" y2="199.54" stroke="#000" stroke-width="1.5"/>
<line x1="1667.12" y1="213.66" x2="1667.12" y2="227.55" stroke="#000" stroke-width="1.5"/>
<line x1="1660.52" y1="227.55" x2="1673.72" y2="227.55" stroke="#000" stroke-width="1.5"/>
<polyline points="1591.7,200.97 1667.12,213.66" fill="none" stroke="#000" stroke-width="1.5"/>
<circle cx="1591.7" cy="200.97" r="6.6" fill="#000"/>
<circle cx="1667.12" cy="213.66" r="6.6" fill="#000"/>
<line x1="1591.7" y1="133.46" x2="1591.7" y2="105.45" stroke="#000" stroke-width="1.5"/>
<line x1="1585.1" y1="105.45" x2="1598.3" y2="105.45" stroke="#000" stroke-width="1.5"/>
<line x1="1591.7" y1="133.46" x2="1591.7" y2="162.91" stroke="#000" stroke-width="1.5"/>
<line x1="1585.1" y1="162.91" x2="1598.3" y2="162.91" stroke="#000" stroke-width="1.5"/>
<line x1="1667.12" y1="192" x2="1667.12" y2="174.52" stroke="#000" stroke-width="1.5"/>
<line x1="1660.52" y1="174.52" x2="1673.72" y2="174.52" stroke="#000" stroke-width="1.5"/>
<line x1="1667.12" y1="192" x2="1667.12" y2="199.54" stroke="#000" stroke-width="1.5"/>
<line x1="1660.52" y1="199.54" x2="1673.72" y2="199.54" stroke="#000" stroke-width="1.5"/>
<polyline points="1591.7,133.46 1667.12,192" fill="none" stroke="#000" stroke-width="1.5"/>
<circle cx="1591.7" cy="133.46" r="6.2" fill="#fff" stroke="#000" stroke-width="1.6"/>
<circle cx="1667.12" cy="192" r="6.2" fill="#fff" stroke="#000" stroke-width="1.6"/>
<text transform="translate(1667.12,121.04) scale(1.12,0.98)" font-size="24" text-anchor="middle">¤</text>
<line x1="1742.54" y1="419.92" x2="1742.54" y2="410.32" stroke="#000" stroke-width="1.5"/>
<line x1="1735.94" y1="410.32" x2="1749.14" y2="410.32" stroke="#000" stroke-width="1.5"/>
<line x1="1742.54" y1="419.92" x2="1742.54" y2="430.38" stroke="#000" stroke-width="1.5"/>
<line x1="1735.94" y1="430.38" x2="1749.14" y2="430.38" stroke="#000" stroke-width="1.5"/>
<polyline points="1742.54,419.92 1817.96,418.17" fill="none" stroke="#000" stroke-width="1.5"/>
<circle cx="1742.54" cy="419.92" r="6.6" fill="#000"/>
<circle cx="1817.96" cy="418.17" r="6.6" fill="#000"/>
<line x1="1742.54" y1="363.24" x2="1742.54" y2="351.9" stroke="#000" stroke-width="1.5"/>
<line x1="1735.94" y1="351.9" x2="1749.14" y2="351.9" stroke="#000" stroke-width="1.5"/>
<line x1="1742.54" y1="363.24" x2="1742.54" y2="374.57" stroke="#000" stroke-width="1.5"/>
<line x1="1735.94" y1="374.57" x2="1749.14" y2="374.57" stroke="#000" stroke-width="1.5"/>
<line x1="1817.96" y1="400.73" x2="1817.96" y2="391.14" stroke="#000" stroke-width="1.5"/>
<line x1="1811.36" y1="391.14" x2="1824.56" y2="391.14" stroke="#000" stroke-width="1.5"/>
<line x1="1817.96" y1="400.73" x2="1817.96" y2="410.32" stroke="#000" stroke-width="1.5"/>
<line x1="1811.36" y1="410.32" x2="1824.56" y2="410.32" stroke="#000" stroke-width="1.5"/>
<polyline points="1742.54,368.24 1817.96,400.73" fill="none" stroke="#000" stroke-width="1.5"/>
<circle cx="1742.54" cy="363.24" r="6.2" fill="#fff" stroke="#000" stroke-width="1.6"/>
<circle cx="1817.96" cy="400.73" r="6.2" fill="#fff" stroke="#000" stroke-width="1.6"/>
<text transform="translate(1817.96,356.64) scale(1.12,0.98)" font-size="24" text-anchor="middle">¤</text>
<line x1="1893.38" y1="404.22" x2="1893.38" y2="389.66" stroke="#000" stroke-width="1.5"/>
<line x1="1886.78" y1="389.66" x2="1899.98" y2="389.66" stroke="#000" stroke-width="1.5"/>
<line x1="1893.38" y1="404.22" x2="1893.38" y2="418.7" stroke="#000" stroke-width="1.5"/>
<line x1="1886.78" y1="418.7" x2="1899.98" y2="418.7" stroke="#000" stroke-width="1.5"/>
<line x1="1968.8" y1="400.73" x2="1968.8" y2="370.74" stroke="#000" stroke-width="1.5"/>
<line x1="1962.2" y1="370.74" x2="1975.4" y2="370.74" stroke="#000" stroke-width="1.5"/>
<line x1="1968.8" y1="400.73" x2="1968.8" y2="409.98" stroke="#000" stroke-width="1.5"/>
<line x1="1962.2" y1="409.98" x2="1975.4" y2="409.98" stroke="#000" stroke-width="1.5"/>
<polyline points="1893.38,404.22 1968.8,400.73" fill="none" stroke="#000" stroke-width="1.5"/>
<circle cx="1893.38" cy="404.22" r="6.2" fill="#fff" stroke="#000" stroke-width="1.6"/>
<circle cx="1968.8" cy="400.73" r="6.2" fill="#fff" stroke="#000" stroke-width="1.6"/>
<line x1="1893.38" y1="410.67" x2="1893.38" y2="396.72" stroke="#000" stroke-width="1.5"/>
<line x1="1886.78" y1="396.72" x2="1899.98" y2="396.72" stroke="#000" stroke-width="1.5"/>
<line x1="1893.38" y1="410.67" x2="1893.38" y2="424.01" stroke="#000" stroke-width="1.5"/>
<line x1="1886.78" y1="424.01" x2="1899.98" y2="424.01" stroke="#000" stroke-width="1.5"/>
<line x1="1968.8" y1="399.86" x2="1968.8" y2="390.7" stroke="#000" stroke-width="1.5"/>
<line x1="1962.2" y1="390.7" x2="1975.4" y2="390.7" stroke="#000" stroke-width="1.5"/>
<line x1="1968.8" y1="399.86" x2="1968.8" y2="430.29" stroke="#000" stroke-width="1.5"/>
<line x1="1962.2" y1="430.29" x2="1975.4" y2="430.29" stroke="#000" stroke-width="1.5"/>
<polyline points="1893.38,410.67 1968.8,399.86" fill="none" stroke="#000" stroke-width="1.5"/>
<circle cx="1893.38" cy="410.67" r="6.6" fill="#000"/>
<circle cx="1968.8" cy="399.86" r="6.6" fill="#000"/>
<circle cx="1741.5" cy="45.7" r="6.2" fill="#fff" stroke="#000" stroke-width="1.6"/>
<circle cx="1741.5" cy="74.4" r="6.6" fill="#000"/>
<text transform="translate(1770.2,55.4) scale(1.065,1)" font-size="30">Antigen avoidance</text>
<text transform="translate(1769.8,83.9) scale(1.075,1)" font-size="30">Fluticasone/salmeterol</text>
<text transform="translate(1592.2,488.9) rotate(-45)" font-size="24" text-anchor="end">Pre</text>
<text transform="translate(1671.62,483.7) rotate(-45)" font-size="24" text-anchor="end">30' Post</text>
<text transform="translate(1743.04,488.9) rotate(-45)" font-size="24" text-anchor="end">Pre</text>
<text transform="translate(1822.46,483.7) rotate(-45)" font-size="24" text-anchor="end">30' Post</text>
<text transform="translate(1893.88,488.9) rotate(-45)" font-size="24" text-anchor="end">Pre</text>
<text transform="translate(1973.3,483.7) rotate(-45)" font-size="24" text-anchor="end">30' Post</text>
<line x1="1562.2" y1="556.2" x2="1680.9" y2="556.2" stroke="#000" stroke-width="2.2"/>
<line x1="1713.5" y1="556.2" x2="1832.1" y2="556.2" stroke="#000" stroke-width="2.2"/>
<line x1="1872.7" y1="556.2" x2="1991.1" y2="556.2" stroke="#000" stroke-width="2.2"/>
<text transform="translate(1621.9,592.8) scale(1.09,1)" font-size="28.5" text-anchor="middle">ΔP<tspan font-size="21" dy="6.2">L</tspan></text>
<text transform="translate(1777.4,596.2) scale(1.09,1)" font-size="28.5" text-anchor="middle">R<tspan font-size="21" dy="6.2">L</tspan></text>
<text transform="translate(1932.5,596.2) scale(1.09,1)" font-size="28.5" text-anchor="middle">E<tspan font-size="21" dy="6.2">L</tspan></text>
<text transform="translate(1416,261) rotate(-90)" font-size="29.5" text-anchor="middle">ΔP<tspan font-size="21.5" dy="6.8">L</tspan><tspan dy="-6.8" dx="6.4">(cmH</tspan><tspan font-size="21.5" dy="6.8">2</tspan><tspan dy="-6.8">O)</tspan></text>
<text transform="translate(1458.2,261) rotate(-90)" font-size="29.5" text-anchor="middle">R<tspan font-size="21.5" dy="6.8">L</tspan><tspan dy="-6.8" dx="12.5">(cmH</tspan><tspan font-size="21.5" dy="6.8">2</tspan><tspan dy="-6.8">O/L/sec)</tspan></text>
<text transform="translate(1501,261) rotate(-90)" font-size="29.5" text-anchor="middle">E<tspan font-size="21.5" dy="6.8">L</tspan><tspan dy="-6.8" dx="18.5">(cmH</tspan><tspan font-size="21.5" dy="6.8">2</tspan><tspan dy="-6.8">O/L)</tspan></text>
<line x1="1557.2" y1="738" x2="1557.2" y2="929.75" stroke="#000" stroke-width="1.5"/>
<line x1="1550.2" y1="883" x2="1557.2" y2="883" stroke="#000" stroke-width="1.5"/>
<text transform="translate(1547.2,891.3) scale(1.09,1)" font-size="23.2" text-anchor="end">10</text>
<line x1="1550.2" y1="824.4" x2="1557.2" y2="824.4" stroke="#000" stroke-width="1.5"/>
<text transform="translate(1547.2,832.7) scale(1.09,1)" font-size="23.2" text-anchor="end">20</text>
<line x1="1550.2" y1="765.8" x2="1557.2" y2="765.8" stroke="#000" stroke-width="1.5"/>
<text transform="translate(1547.2,774.1) scale(1.09,1)" font-size="23.2" text-anchor="end">30</text>
<line x1="1550.2" y1="929" x2="1564.2" y2="929" stroke="#000" stroke-width="1.5"/>
<line x1="1557.2" y1="971.35" x2="1557.2" y2="1159.25" stroke="#000" stroke-width="1.5"/>
<line x1="1550.2" y1="1158.5" x2="1557.2" y2="1158.5" stroke="#000" stroke-width="1.5"/>
<text transform="translate(1547.2,1165.74) scale(1.09,1)" font-size="23.2" text-anchor="end">0</text>
<line x1="1550.2" y1="1065.3" x2="1557.2" y2="1065.3" stroke="#000" stroke-width="1.5"/>
<text transform="translate(1547.2,1072.54) scale(1.09,1)" font-size="23.2" text-anchor="end">1</text>
<line x1="1550.2" y1="972.1" x2="1557.2" y2="972.1" stroke="#000" stroke-width="1.5"/>
<text transform="translate(1547.2,979.34) scale(1.09,1)" font-size="23.2" text-anchor="end">2</text>
<line x1="1557.2" y1="972.1" x2="1564.2" y2="972.1" stroke="#000" stroke-width="1.5"/>
<line x1="1557.2" y1="1158.5" x2="2034" y2="1158.5" stroke="#000" stroke-width="1.5"/>
<line x1="1596.8" y1="1158.5" x2="1596.8" y2="1164.5" stroke="#000" stroke-width="1.5"/>
<line x1="1676.25" y1="1158.5" x2="1676.25" y2="1164.5" stroke="#000" stroke-width="1.5"/>
<line x1="1755.7" y1="1158.5" x2="1755.7" y2="1164.5" stroke="#000" stroke-width="1.5"/>
<line x1="1835.15" y1="1158.5" x2="1835.15" y2="1164.5" stroke="#000" stroke-width="1.5"/>
<line x1="1914.6" y1="1158.5" x2="1914.6" y2="1164.5" stroke="#000" stroke-width="1.5"/>
<line x1="1994.05" y1="1158.5" x2="1994.05" y2="1164.5" stroke="#000" stroke-width="1.5"/>
<line x1="1557.95" y1="853.7" x2="2032" y2="853.7" stroke="#000" stroke-width="1.8" stroke-dasharray="3.8,2.9"/>
<line x1="1557.95" y1="1065.3" x2="2032" y2="1065.3" stroke="#000" stroke-width="1.8" stroke-dasharray="3.8,2.9"/>
<line x1="1596.8" y1="798.62" x2="1596.8" y2="745.29" stroke="#000" stroke-width="1.5"/>
<line x1="1590.2" y1="745.29" x2="1603.4" y2="745.29" stroke="#000" stroke-width="1.5"/>
<line x1="1596.8" y1="798.62" x2="1596.8" y2="849.01" stroke="#000" stroke-width="1.5"/>
<line x1="1590.2" y1="849.01" x2="1603.4" y2="849.01" stroke="#000" stroke-width="1.5"/>
<line x1="1676.25" y1="866.01" x2="1676.25" y2="837.29" stroke="#000" stroke-width="1.5"/>
<line x1="1669.65" y1="837.29" x2="1682.85" y2="837.29" stroke="#000" stroke-width="1.5"/>
<line x1="1676.25" y1="866.01" x2="1676.25" y2="894.72" stroke="#000" stroke-width="1.5"/>
<line x1="1669.65" y1="894.72" x2="1682.85" y2="894.72" stroke="#000" stroke-width="1.5"/>
<polyline points="1596.8,798.62 1676.25,866.01" fill="none" stroke="#000" stroke-width="1.5"/>
<polygon points="1596.8,791.92 1603,803.08 1590.6,803.08" fill="#fff" stroke="#000" stroke-width="1.6"/>
<polygon points="1676.25,859.31 1682.45,870.47 1670.05,870.47" fill="#fff" stroke="#000" stroke-width="1.6"/>
<line x1="1596.8" y1="888.86" x2="1596.8" y2="873.62" stroke="#b4b4b4" stroke-width="1.5"/>
<line x1="1590.2" y1="873.62" x2="1603.4" y2="873.62" stroke="#b4b4b4" stroke-width="1.5"/>
<line x1="1596.8" y1="888.86" x2="1596.8" y2="902.34" stroke="#b4b4b4" stroke-width="1.5"/>
<line x1="1590.2" y1="902.34" x2="1603.4" y2="902.34" stroke="#b4b4b4" stroke-width="1.5"/>
<line x1="1676.25" y1="895.89" x2="1676.25" y2="892.38" stroke="#b4b4b4" stroke-width="1.5"/>
<line x1="1669.65" y1="892.38" x2="1682.85" y2="892.38" stroke="#b4b4b4" stroke-width="1.5"/>
<line x1="1676.25" y1="895.89" x2="1676.25" y2="899.41" stroke="#b4b4b4" stroke-width="1.5"/>
<line x1="1669.65" y1="899.41" x2="1682.85" y2="899.41" stroke="#b4b4b4" stroke-width="1.5"/>
<polyline points="1596.8,888.86 1676.25,895.89" fill="none" stroke="#b4b4b4" stroke-width="1.5"/>
<rect x="1590.55" y="882.61" width="12.5" height="12.5" rx="1.5" fill="#dadada" stroke="#aaaaaa" stroke-width="1.3"/>
<rect x="1670" y="889.64" width="12.5" height="12.5" rx="1.5" fill="#dadada" stroke="#aaaaaa" stroke-width="1.3"/>
<line x1="1755.7" y1="1066.23" x2="1755.7" y2="1041.07" stroke="#000" stroke-width="1.5"/>
<line x1="1749.1" y1="1041.07" x2="1762.3" y2="1041.07" stroke="#000" stroke-width="1.5"/>
<line x1="1755.7" y1="1066.23" x2="1755.7" y2="1090.46" stroke="#000" stroke-width="1.5"/>
<line x1="1749.1" y1="1090.46" x2="1762.3" y2="1090.46" stroke="#000" stroke-width="1.5"/>
<line x1="1835.15" y1="1105.38" x2="1835.15" y2="1085.8" stroke="#000" stroke-width="1.5"/>
<line x1="1828.55" y1="1085.8" x2="1841.75" y2="1085.8" stroke="#000" stroke-width="1.5"/>
<line x1="1835.15" y1="1105.38" x2="1835.15" y2="1128.68" stroke="#000" stroke-width="1.5"/>
<line x1="1828.55" y1="1128.68" x2="1841.75" y2="1128.68" stroke="#000" stroke-width="1.5"/>
<polyline points="1755.7,1066.23 1835.15,1105.38" fill="none" stroke="#000" stroke-width="1.5"/>
<polygon points="1755.7,1059.54 1761.9,1070.7 1749.5,1070.7" fill="#fff" stroke="#000" stroke-width="1.6"/>
<polygon points="1835.15,1098.68 1841.35,1109.84 1828.95,1109.84" fill="#fff" stroke="#000" stroke-width="1.6"/>
<line x1="1755.7" y1="1078.35" x2="1755.7" y2="1069.96" stroke="#b4b4b4" stroke-width="1.5"/>
<line x1="1749.1" y1="1069.96" x2="1762.3" y2="1069.96" stroke="#b4b4b4" stroke-width="1.5"/>
<line x1="1755.7" y1="1078.35" x2="1755.7" y2="1093.26" stroke="#b4b4b4" stroke-width="1.5"/>
<line x1="1749.1" y1="1093.26" x2="1762.3" y2="1093.26" stroke="#b4b4b4" stroke-width="1.5"/>
<line x1="1835.15" y1="1078.35" x2="1835.15" y2="1057.84" stroke="#b4b4b4" stroke-width="1.5"/>
<line x1="1828.55" y1="1057.84" x2="1841.75" y2="1057.84" stroke="#b4b4b4" stroke-width="1.5"/>
<line x1="1835.15" y1="1078.35" x2="1835.15" y2="1099.32" stroke="#b4b4b4" stroke-width="1.5"/>
<line x1="1828.55" y1="1099.32" x2="1841.75" y2="1099.32" stroke="#b4b4b4" stroke-width="1.5"/>
<polyline points="1755.7,1078.35 1835.15,1078.35" fill="none" stroke="#b4b4b4" stroke-width="1.5"/>
<rect x="1749.45" y="1072.1" width="12.5" height="12.5" rx="1.5" fill="#dadada" stroke="#aaaaaa" stroke-width="1.3"/>
<rect x="1828.9" y="1072.1" width="12.5" height="12.5" rx="1.5" fill="#dadada" stroke="#aaaaaa" stroke-width="1.3"/>
<line x1="1914.6" y1="915.9" x2="1914.6" y2="905.7" stroke="#000" stroke-width="1.5"/>
<line x1="1908" y1="905.7" x2="1921.2" y2="905.7" stroke="#000" stroke-width="1.5"/>
<line x1="1914.6" y1="915.9" x2="1914.6" y2="926.5" stroke="#000" stroke-width="1.5"/>
<line x1="1908" y1="926.5" x2="1921.2" y2="926.5" stroke="#000" stroke-width="1.5"/>
<line x1="1994.05" y1="995.1" x2="1994.05" y2="925.5" stroke="#000" stroke-width="1.5"/>
<line x1="1987.45" y1="925.5" x2="2000.65" y2="925.5" stroke="#000" stroke-width="1.5"/>
<line x1="1994.05" y1="995.1" x2="1994.05" y2="1062.8" stroke="#000" stroke-width="1.5"/>
<line x1="1987.45" y1="1062.8" x2="2000.65" y2="1062.8" stroke="#000" stroke-width="1.5"/>
<polyline points="1914.6,915.9 1994.05,995.1" fill="none" stroke="#000" stroke-width="1.5"/>
<polygon points="1914.6,909.2 1920.8,920.36 1908.4,920.36" fill="#fff" stroke="#000" stroke-width="1.6"/>
<polygon points="1994.05,988.4 2000.25,999.56 1987.85,999.56" fill="#fff" stroke="#000" stroke-width="1.6"/>
<line x1="1914.6" y1="1085.8" x2="1914.6" y2="1066.23" stroke="#b4b4b4" stroke-width="1.5"/>
<line x1="1908" y1="1066.23" x2="1921.2" y2="1066.23" stroke="#b4b4b4" stroke-width="1.5"/>
<line x1="1914.6" y1="1085.8" x2="1914.6" y2="1105.38" stroke="#b4b4b4" stroke-width="1.5"/>
<line x1="1908" y1="1105.38" x2="1921.2" y2="1105.38" stroke="#b4b4b4" stroke-width="1.5"/>
<line x1="1994.05" y1="1097.92" x2="1994.05" y2="1089.53" stroke="#b4b4b4" stroke-width="1.5"/>
<line x1="1987.45" y1="1089.53" x2="2000.65" y2="1089.53" stroke="#b4b4b4" stroke-width="1.5"/>
<line x1="1994.05" y1="1097.92" x2="1994.05" y2="1106.31" stroke="#b4b4b4" stroke-width="1.5"/>
<line x1="1987.45" y1="1106.31" x2="2000.65" y2="1106.31" stroke="#b4b4b4" stroke-width="1.5"/>
<polyline points="1914.6,1085.8 1994.05,1097.92" fill="none" stroke="#b4b4b4" stroke-width="1.5"/>
<rect x="1908.35" y="1079.55" width="12.5" height="12.5" rx="1.5" fill="#dadada" stroke="#aaaaaa" stroke-width="1.3"/>
<rect x="1987.8" y="1091.67" width="12.5" height="12.5" rx="1.5" fill="#dadada" stroke="#aaaaaa" stroke-width="1.3"/>
<text transform="translate(1678.3,801.21) scale(1.15,1)" font-size="28.6" text-anchor="middle" font-weight="bold" stroke="#000" stroke-width="0.4">#</text>
<text transform="translate(1837.4,1017.31) scale(1.15,1)" font-size="28.6" text-anchor="middle" font-weight="bold" stroke="#000" stroke-width="0.4">#</text>
<text transform="translate(1994.5,893.61) scale(1.15,1)" font-size="28.6" text-anchor="middle" font-weight="bold" stroke="#000" stroke-width="0.4">#</text>
<rect x="1885.6" y="714.4" width="13.2" height="13.2" rx="1.5" fill="#dadada" stroke="#aaaaaa" stroke-width="1.3"/>
<polygon points="1892.4,744.5 1898.6,755.66 1886.2,755.66" fill="#fff" stroke="#000" stroke-width="1.6"/>
<text transform="translate(1921.5,732.3) scale(1.08,1)" font-size="31.4">Fluticasone</text>
<text transform="translate(1922,762.4) scale(1.08,1)" font-size="31.4">Salmeterol</text>
<text transform="translate(1597.5,1188.3) rotate(-45)" font-size="25.2" text-anchor="end">Pre</text>
<text transform="translate(1682.25,1182.8) rotate(-45)" font-size="25.2" text-anchor="end">30' Post</text>
<text transform="translate(1756.4,1188.3) rotate(-45)" font-size="25.2" text-anchor="end">Pre</text>
<text transform="translate(1841.15,1182.8) rotate(-45)" font-size="25.2" text-anchor="end">30' Post</text>
<text transform="translate(1915.3,1188.3) rotate(-45)" font-size="25.2" text-anchor="end">Pre</text>
<text transform="translate(2000.05,1182.8) rotate(-45)" font-size="25.2" text-anchor="end">30' Post</text>
<line x1="1566.9" y1="1260.3" x2="1690.8" y2="1260.3" stroke="#000" stroke-width="2.2"/>
<line x1="1725.9" y1="1260.3" x2="1850.4" y2="1260.3" stroke="#000" stroke-width="2.2"/>
<line x1="1893.2" y1="1260.3" x2="2017.6" y2="1260.3" stroke="#000" stroke-width="2.2"/>
<text transform="translate(1629,1299.1) scale(1.08,1)" font-size="30" text-anchor="middle">ΔP<tspan font-size="22" dy="6.6">L</tspan></text>
<text transform="translate(1792.4,1303) scale(1.08,1)" font-size="30" text-anchor="middle">R<tspan font-size="22" dy="6.6">L</tspan></text>
<text transform="translate(1956.2,1303) scale(1.08,1)" font-size="30" text-anchor="middle">E<tspan font-size="22" dy="6.6">L</tspan></text>
<text transform="translate(1412.2,944.6) rotate(-90)" font-size="31.5" text-anchor="middle">ΔP<tspan font-size="23" dy="7">L</tspan><tspan dy="-7" dx="6.9">(cmH</tspan><tspan font-size="23" dy="7">2</tspan><tspan dy="-7">O)</tspan></text>
<text transform="translate(1457.1,944.6) rotate(-90)" font-size="31.5" text-anchor="middle">R<tspan font-size="23" dy="7">L</tspan><tspan dy="-7" dx="14.5">(cmH</tspan><tspan font-size="23" dy="7">2</tspan><tspan dy="-7">O/L/sec)</tspan></text>
<text transform="translate(1501.8,944.6) rotate(-90)" font-size="31.5" text-anchor="middle">E<tspan font-size="23" dy="7">L</tspan><tspan dy="-7" dx="20">(cmH</tspan><tspan font-size="23" dy="7">2</tspan><tspan dy="-7">O/L)</tspan></text>
</svg></body></html>
